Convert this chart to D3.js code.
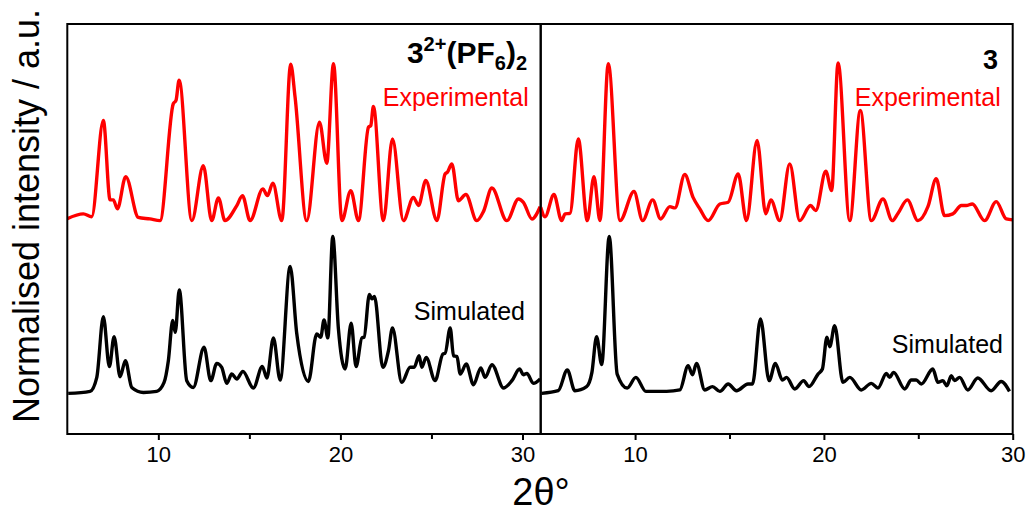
<!DOCTYPE html>
<html><head><meta charset="utf-8">
<script src="https://cdn.jsdelivr.net/npm/d3@7"></script>
<style>body{margin:0;background:#fff}svg{display:block}text{font-family:"Liberation Sans",Arial,sans-serif}</style>
</head><body><svg id="c" width="1029" height="512"></svg>
<script>
// 2θ (degrees) and normalised intensity (simulated max = 100)
const leftTicks = [10, 20, 30];
const rightTicks = [10, 20, 30];
const minorTicks = [15, 25];
const expOffset = 110;

const leftExperimental = [[5.0,1.3],[5.88,4.3],[6.34,2.5],[6.98,63.7],[7.35,13.2],[7.53,13.2],[7.75,7.5],[8.21,28],[8.9,2.1],[9.54,1.1],[10.09,0],[10.82,74.3],[10.97,76.4],[11.14,89.2],[11.84,0],[12.47,35],[12.93,0],[13.3,14.5],[13.66,0],[14.31,9.6],[14.62,15.9],[15.04,0],[15.74,20.2],[15.99,15.9],[16.29,23.8],[16.78,0],[17.27,99.4],[17.51,78.5],[18.15,0],[18.85,62.6],[19.25,36.5],[19.62,99.8],[20.08,0],[20.57,19.1],[20.99,0],[21.54,59.4],[21.67,60.5],[21.81,72.6],[22.36,0],[22.86,52],[23.46,0],[24.01,14.8],[24.29,9.6],[24.69,25.5],[25.3,0],[25.75,29.7],[25.88,30.8],[26.12,36.1],[26.48,12.7],[26.89,16.6],[27.49,0],[27.86,5.9],[28.32,20.8],[29.14,0],[29.78,13.8],[30.05,11.7],[30.52,1.1],[30.97,8.9]];

const leftSimulated = [[5.05,0.2],[6.25,1.5],[6.62,10.4],[6.98,49],[7.31,17.2],[7.57,36.3],[7.9,10.8],[8.19,21],[8.54,4],[9.18,0.8],[9.91,1.5],[10.31,7],[10.55,21],[10.79,46.5],[10.93,39],[11.15,66],[11.56,8.3],[11.92,4],[12.51,29.5],[12.88,8.3],[13.21,19.3],[13.48,16.8],[13.76,6.6],[14.03,12.5],[14.31,9.4],[14.64,14.2],[15.22,3.6],[15.71,17.4],[15.96,10],[16.32,35.5],[16.69,8.7],[17.24,80.9],[17.6,38.4],[18.24,7.8],[18.7,38],[18.92,35.9],[19.1,46.9],[19.31,35.5],[19.58,100],[19.89,41.2],[20.26,15.7],[20.59,44.8],[20.86,17.2],[21.18,35.5],[21.3,35.9],[21.59,63.1],[21.73,60.3],[21.87,61.8],[22.33,16.8],[22.64,27.4],[22.86,41.8],[23.37,7.2],[23.83,16.8],[24.05,16.8],[24.32,24.2],[24.47,16.8],[24.71,23.1],[25.2,8.3],[25.63,25.3],[25.75,25.7],[26.03,41.8],[26.21,24.2],[26.4,23.6],[26.58,12.5],[26.91,18.9],[27.31,5.7],[27.71,16.4],[27.95,10.4],[28.32,18.5],[28.96,3.6],[29.42,8.3],[29.84,15.7],[30.05,12.1],[30.24,12.9],[30.6,6.6],[30.97,9.4]];

const rightExperimental = [[5.0,8.5],[5.23,2.5],[5.7,16.6],[6.11,0],[6.29,4.3],[6.55,4.6],[6.99,52],[7.47,0],[7.82,28],[8.14,0],[8.58,99.8],[9.2,0],[9.94,18.5],[10.4,0],[10.93,13.2],[11.35,1.1],[11.84,8.9],[12.11,8.1],[12.63,29.3],[13.07,14.8],[13.43,7.5],[13.87,0],[14.49,10.6],[14.93,11.7],[15.46,29.7],[15.9,0],[16.46,51],[16.92,4.3],[17.19,13.2],[17.66,0],[18.19,36.1],[18.72,0],[19.29,9.6],[19.57,6.4],[20.1,31.4],[20.41,19.1],[20.75,100.2],[21.37,0],[21.93,70],[22.51,0],[23.13,13.8],[23.62,0],[23.92,4.6],[24.42,13.2],[24.98,0],[25.51,8.9],[25.95,26.6],[26.39,3.2],[26.83,4.3],[27.28,9.6],[27.54,9.6],[27.86,10.6],[28.51,0],[29.13,12.1],[29.66,1.1],[30.0,0.5]];

const rightSimulated = [[5.05,0.2],[5.93,1.9],[6.41,15.1],[6.81,1.9],[7.43,4.5],[7.71,13.4],[7.96,36.3],[8.23,18.5],[8.63,100],[9.05,12.5],[9.58,3.6],[10.04,10.4],[10.57,1.5],[11.67,1.5],[12.37,2.4],[12.81,17.8],[13.04,12.1],[13.25,19.3],[13.69,2.4],[14.1,4.5],[14.49,1.5],[14.93,6.2],[15.37,1.9],[15.98,6.2],[16.22,6.2],[16.64,47.6],[17.1,8.3],[17.43,19.3],[17.8,8.7],[18.02,10.4],[18.46,3],[18.93,8.3],[19.21,4.5],[19.69,12.5],[19.92,15.7],[20.16,35.9],[20.31,29.9],[20.57,43.3],[21.01,7.2],[21.37,10.4],[21.98,2.4],[22.51,6.6],[22.86,3.6],[23.31,12.9],[23.48,10.4],[23.69,13.6],[24.28,3],[24.63,8.7],[24.89,8.7],[25.16,6.2],[25.77,15.7],[26.04,7.2],[26.3,8.3],[26.51,5.1],[26.75,11.5],[26.92,8.3],[27.19,10.4],[27.62,2.4],[28.15,10],[28.86,1.9],[29.39,7.8],[29.83,1.5]];

const svg = d3.select("#c");
svg.append("rect").attr("width",1029).attr("height",512).attr("fill","#fff");

const plotTop = 24, plotBottom = 434;
const xL = d3.scaleLinear().domain([5,31]).range([67.3,540.7]);
const xR = d3.scaleLinear().domain([5,30]).range([540.7,1012.7]);
const y = d3.scaleLinear().domain([-25.6,235]).range([plotBottom, plotTop]);

function panel(x, exp, sim, ticks, id, titleFn, simPos){
  svg.append("clipPath").attr("id", id).append("rect")
    .attr("x", x.range()[0]).attr("y", plotTop).attr("width", x.range()[1]-x.range()[0]).attr("height", plotBottom-plotTop);
  const g = svg.append("g").attr("clip-path", `url(#${id})`);
  const lineExp = d3.line().x(d=>x(d[0])).y(d=>y(d[1]+expOffset)).curve(d3.curveMonotoneX);
  const lineSim = d3.line().x(d=>x(d[0])).y(d=>y(d[1])).curve(d3.curveMonotoneX);
  g.append("path").attr("d", lineSim(sim)).attr("fill","none").attr("stroke","#000").attr("stroke-width",3.4).attr("stroke-linejoin","round");
  g.append("path").attr("d", lineExp(exp)).attr("fill","none").attr("stroke","#ff0000").attr("stroke-width",3.4).attr("stroke-linejoin","round");
  svg.append("rect").attr("x", x.range()[0]).attr("y", plotTop).attr("width", x.range()[1]-x.range()[0]).attr("height", plotBottom-plotTop)
    .attr("fill","none").attr("stroke","#000").attr("stroke-width",2);
  const ax = svg.append("g").attr("transform", `translate(0,${plotBottom})`)
    .call(d3.axisBottom(x).tickValues(ticks).tickSize(6).tickPadding(6).tickFormat(d3.format("d")));
  ax.select(".domain").remove();
  ax.selectAll("line").attr("stroke-width",2);
  ax.selectAll("text").attr("font-size",22).attr("font-family","'Liberation Sans',Arial,sans-serif").attr("fill","#000");
  const mx = svg.append("g").attr("transform", `translate(0,${plotBottom})`)
    .call(d3.axisBottom(x).tickValues(minorTicks).tickSize(5).tickFormat(""));
  mx.select(".domain").remove();
  mx.selectAll("line").attr("stroke-width",2);
  titleFn();
  svg.append("text").attr("x", x.range()[1]-12).attr("y", 106).attr("text-anchor","end")
    .attr("font-size",25).attr("fill","#ff0000").text("Experimental");
  svg.append("text").attr("x", simPos[0]).attr("y", simPos[1]).attr("text-anchor","end")
    .attr("font-size",25).attr("fill","#000").text("Simulated");
}

panel(xL, leftExperimental, leftSimulated, leftTicks, "clipL", () => {
  const t = svg.append("text").attr("x", 527).attr("y", 63).attr("text-anchor","end")
    .attr("font-size",30).attr("font-weight","bold").attr("fill","#000");
  t.append("tspan").text("3");
  t.append("tspan").attr("font-size",20).attr("dy",-12).text("2+");
  t.append("tspan").attr("dy",12).text("(PF");
  t.append("tspan").attr("font-size",20).attr("dy",7).text("6");
  t.append("tspan").attr("dy",-7).text(")");
  t.append("tspan").attr("font-size",20).attr("dy",7).text("2");
}, [525, 320]);

panel(xR, rightExperimental, rightSimulated, rightTicks, "clipR", () => {
  svg.append("text").attr("x", 998).attr("y", 69).attr("text-anchor","end")
    .attr("font-size",27).attr("font-weight","bold").attr("fill","#000").text("3");
}, [1003, 353]);

svg.append("text").attr("transform","translate(39,216) rotate(-90)").attr("text-anchor","middle")
  .attr("font-size",36).attr("fill","#000").text("Normalised intensity / a.u.");
svg.append("text").attr("x", 541).attr("y", 505).attr("text-anchor","middle")
  .attr("font-size",38).attr("font-family","'Liberation Serif','Times New Roman',serif").attr("fill","#000").text("2θ°");
</script></body></html>
